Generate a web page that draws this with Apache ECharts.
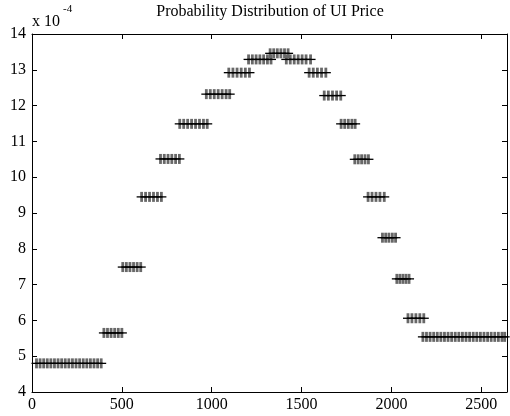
<!DOCTYPE html>
<html>
<head>
<meta charset="utf-8">
<script src="https://cdn.jsdelivr.net/npm/echarts@6/dist/echarts.min.js"></script>
<style>html,body{margin:0;padding:0;background:#fff}#c{width:510px;height:416px}</style>
</head>
<body>
<div id="c"></div>
<script>
// Probability values are in units of 1e-4 (as the axis says "x 10^-4")
var segY = [4.80, 5.65, 7.49, 9.45, 10.51, 11.49, 12.32, 12.92, 13.29, 13.46,
            13.29, 12.92, 12.28, 11.49, 10.50, 9.45, 8.31, 7.16, 6.06, 5.54];
var segX = [
  [25,45,65,85,105,125,145,165,185,205,225,245,265,285,305,325,345,365,385],
  [400,420,440,460,480,500],
  [505,525,545,565,585,605],
  [610,632,654,676,698,720],
  [715,736,757,778,799,820],
  [822,844,866,888,910,932,954,975],
  [970,992,1014,1036,1058,1080,1100],
  [1095,1118,1141,1164,1187,1210],
  [1205,1226,1247,1268,1289,1310,1330],
  [1325,1345,1365,1385,1405,1425],
  [1415,1437,1459,1481,1503,1525,1550],
  [1542,1565,1588,1611,1635],
  [1626,1649,1672,1695,1718],
  [1720,1740,1760,1780,1798],
  [1796,1815,1834,1853,1872],
  [1870,1892,1914,1936,1960],
  [1950,1968,1986,2005,2023],
  [2030,2047,2064,2081,2098],
  [2092,2114,2136,2158,2180],
  [2175,2195,2215,2235,2255,2275,2295,2315,2335,2355,2375,2395,2415,2435,2455,2475,2495,2515,2535,2555,2575,2595,2615,2630]
];
var xTicks = [0, 500, 1000, 1500, 2000, 2500];
var yTicks = [4, 5, 6, 7, 8, 9, 10, 11, 12, 13, 14];
var titleText = 'Probability Distribution of UI Price';

var pts = [];
for (var i = 0; i < segX.length; i++) {
  for (var j = 0; j < segX[i].length; j++) pts.push([segX[i][j], segY[i]]);
}

var FONT = 'Liberation Serif';
var axisCommon = {
  splitLine: {show: false},
  axisLine: {show: true, onZero: false, lineStyle: {color: '#000', width: 1}},
  axisTick: {show: true, inside: true, length: 5, lineStyle: {color: '#000'}}
};
function xAx(pos, show) {
  return Object.assign({
    type: 'value', position: pos, min: 0, max: 2643, interval: 500,
    axisLabel: {show: show, margin: 5, color: '#000', fontFamily: FONT, fontSize: 16,
      formatter: function (v) { return xTicks.indexOf(v) >= 0 ? String(v) : ''; }}
  }, axisCommon);
}
function yAx(pos, show) {
  return Object.assign({
    type: 'value', position: pos, min: 4, max: 14, interval: 1,
    axisLabel: {show: show, margin: 6, color: '#000', fontFamily: FONT, fontSize: 16,
      formatter: function (v) { return yTicks.indexOf(v) >= 0 ? String(v) : ''; }}
  }, axisCommon);
}

var chart = echarts.init(document.getElementById('c'), null, {renderer: 'canvas'});
chart.setOption({
  animation: false,
  backgroundColor: '#fff',
  grid: {left: 32, right: 2, top: 34, bottom: 24, containLabel: false},
  xAxis: [xAx('bottom', true), xAx('top', false)],
  yAxis: [yAx('left', true), yAx('right', false)],
  graphic: [
    {type: 'text', x: 270, y: 4, style: {text: titleText, fill: '#000', font: '16px "Liberation Serif"', textAlign: 'center'}},
    {type: 'text', x: 32, y: 14, style: {text: 'x 10', fill: '#000', font: '16px "Liberation Serif"'}},
    {type: 'text', x: 63, y: 4, style: {text: '-4', fill: '#000', font: '11px "Liberation Serif"'}}
  ],
  series: [{
    type: 'scatter',
    xAxisIndex: 0, yAxisIndex: 0,
    data: pts,
    symbol: 'rect',
    symbolSize: [2.8, 10],
    itemStyle: {color: '#686868', opacity: 1},
    emphasis: {disabled: true},
    z: 2
  }, {
    type: 'scatter',
    xAxisIndex: 0, yAxisIndex: 0,
    data: pts,
    symbol: 'rect',
    symbolSize: [10, 1.3],
    itemStyle: {color: '#000', opacity: 1},
    emphasis: {disabled: true},
    z: 3
  }]
});
</script>
</body>
</html>
